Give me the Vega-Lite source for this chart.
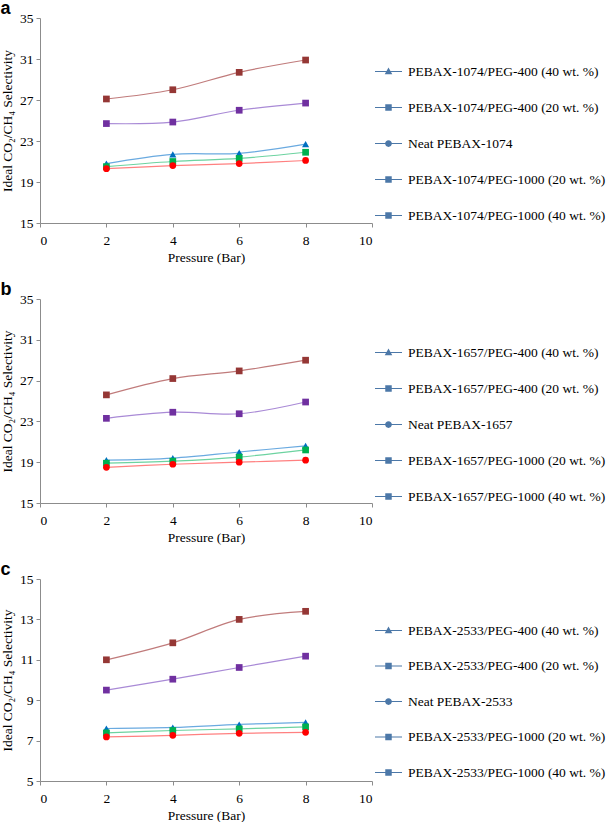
{
  "$schema": "https://vega.github.io/schema/vega-lite/v6.json",
  "padding": {"left": 0, "top": 0, "right": 0, "bottom": 0},
  "spacing": 17,
  "config": {
    "view": {"stroke": null},
    "style": {"guide-label": {"font": "Liberation Serif", "fontSize": 13.5, "fill": "#000"}, "guide-title": {"font": "Liberation Serif", "fontSize": 13.5, "fill": "#000"}},
    "axis": {"grid": false, "domainColor": "#8c8c8c", "tickColor": "#8c8c8c", "tickSize": 4, "labelFont": "Liberation Serif", "labelFontSize": 13.5, "labelColor": "#000", "labelPadding": 3, "titleFont": "Liberation Serif", "titleFontSize": 13.5, "titleFontWeight": "normal", "titleColor": "#000", "titlePadding": 5},
    "axisX": {"labelPadding": 6, "titlePadding": 4},
    "title": {"font": "Liberation Sans", "fontSize": 18, "fontWeight": "bold", "anchor": "start", "color": "#000", "offset": -7}
  },
  "datasets": {
    "a": [
      {"series": "PEBAX-1074/PEG-400 (40 wt. %)", "p": 2, "v": 20.8}, {"series": "PEBAX-1074/PEG-400 (40 wt. %)", "p": 4, "v": 21.7}, {"series": "PEBAX-1074/PEG-400 (40 wt. %)", "p": 6, "v": 21.8}, {"series": "PEBAX-1074/PEG-400 (40 wt. %)", "p": 8, "v": 22.7},
      {"series": "PEBAX-1074/PEG-400 (20 wt. %)", "p": 2, "v": 20.5}, {"series": "PEBAX-1074/PEG-400 (20 wt. %)", "p": 4, "v": 21.0}, {"series": "PEBAX-1074/PEG-400 (20 wt. %)", "p": 6, "v": 21.3}, {"series": "PEBAX-1074/PEG-400 (20 wt. %)", "p": 8, "v": 21.9},
      {"series": "Neat PEBAX-1074", "p": 2, "v": 20.3}, {"series": "Neat PEBAX-1074", "p": 4, "v": 20.6}, {"series": "Neat PEBAX-1074", "p": 6, "v": 20.8}, {"series": "Neat PEBAX-1074", "p": 8, "v": 21.1},
      {"series": "PEBAX-1074/PEG-1000 (20 wt. %)", "p": 2, "v": 24.7}, {"series": "PEBAX-1074/PEG-1000 (20 wt. %)", "p": 4, "v": 24.85}, {"series": "PEBAX-1074/PEG-1000 (20 wt. %)", "p": 6, "v": 26.0}, {"series": "PEBAX-1074/PEG-1000 (20 wt. %)", "p": 8, "v": 26.7},
      {"series": "PEBAX-1074/PEG-1000 (40 wt. %)", "p": 2, "v": 27.1}, {"series": "PEBAX-1074/PEG-1000 (40 wt. %)", "p": 4, "v": 28.0}, {"series": "PEBAX-1074/PEG-1000 (40 wt. %)", "p": 6, "v": 29.7}, {"series": "PEBAX-1074/PEG-1000 (40 wt. %)", "p": 8, "v": 30.9}
    ],
    "b": [
      {"series": "PEBAX-1657/PEG-400 (40 wt. %)", "p": 2, "v": 19.2}, {"series": "PEBAX-1657/PEG-400 (40 wt. %)", "p": 4, "v": 19.4}, {"series": "PEBAX-1657/PEG-400 (40 wt. %)", "p": 6, "v": 20.0}, {"series": "PEBAX-1657/PEG-400 (40 wt. %)", "p": 8, "v": 20.6},
      {"series": "PEBAX-1657/PEG-400 (20 wt. %)", "p": 2, "v": 18.9}, {"series": "PEBAX-1657/PEG-400 (20 wt. %)", "p": 4, "v": 19.1}, {"series": "PEBAX-1657/PEG-400 (20 wt. %)", "p": 6, "v": 19.5}, {"series": "PEBAX-1657/PEG-400 (20 wt. %)", "p": 8, "v": 20.2},
      {"series": "Neat PEBAX-1657", "p": 2, "v": 18.5}, {"series": "Neat PEBAX-1657", "p": 4, "v": 18.8}, {"series": "Neat PEBAX-1657", "p": 6, "v": 19.0}, {"series": "Neat PEBAX-1657", "p": 8, "v": 19.2},
      {"series": "PEBAX-1657/PEG-1000 (20 wt. %)", "p": 2, "v": 23.3}, {"series": "PEBAX-1657/PEG-1000 (20 wt. %)", "p": 4, "v": 23.9}, {"series": "PEBAX-1657/PEG-1000 (20 wt. %)", "p": 6, "v": 23.75}, {"series": "PEBAX-1657/PEG-1000 (20 wt. %)", "p": 8, "v": 24.9},
      {"series": "PEBAX-1657/PEG-1000 (40 wt. %)", "p": 2, "v": 25.6}, {"series": "PEBAX-1657/PEG-1000 (40 wt. %)", "p": 4, "v": 27.2}, {"series": "PEBAX-1657/PEG-1000 (40 wt. %)", "p": 6, "v": 27.95}, {"series": "PEBAX-1657/PEG-1000 (40 wt. %)", "p": 8, "v": 29.0}
    ],
    "c": [
      {"series": "PEBAX-2533/PEG-400 (40 wt. %)", "p": 2, "v": 7.6}, {"series": "PEBAX-2533/PEG-400 (40 wt. %)", "p": 4, "v": 7.65}, {"series": "PEBAX-2533/PEG-400 (40 wt. %)", "p": 6, "v": 7.8}, {"series": "PEBAX-2533/PEG-400 (40 wt. %)", "p": 8, "v": 7.9},
      {"series": "PEBAX-2533/PEG-400 (20 wt. %)", "p": 2, "v": 7.38}, {"series": "PEBAX-2533/PEG-400 (20 wt. %)", "p": 4, "v": 7.5}, {"series": "PEBAX-2533/PEG-400 (20 wt. %)", "p": 6, "v": 7.58}, {"series": "PEBAX-2533/PEG-400 (20 wt. %)", "p": 8, "v": 7.68},
      {"series": "Neat PEBAX-2533", "p": 2, "v": 7.18}, {"series": "Neat PEBAX-2533", "p": 4, "v": 7.26}, {"series": "Neat PEBAX-2533", "p": 6, "v": 7.36}, {"series": "Neat PEBAX-2533", "p": 8, "v": 7.41},
      {"series": "PEBAX-2533/PEG-1000 (20 wt. %)", "p": 2, "v": 9.5}, {"series": "PEBAX-2533/PEG-1000 (20 wt. %)", "p": 4, "v": 10.04}, {"series": "PEBAX-2533/PEG-1000 (20 wt. %)", "p": 6, "v": 10.62}, {"series": "PEBAX-2533/PEG-1000 (20 wt. %)", "p": 8, "v": 11.18},
      {"series": "PEBAX-2533/PEG-1000 (40 wt. %)", "p": 2, "v": 11.0}, {"series": "PEBAX-2533/PEG-1000 (40 wt. %)", "p": 4, "v": 11.84}, {"series": "PEBAX-2533/PEG-1000 (40 wt. %)", "p": 6, "v": 13.0}, {"series": "PEBAX-2533/PEG-1000 (40 wt. %)", "p": 8, "v": 13.4}
    ]
  },
  "vconcat": [
    {
      "title": {"text": "a"},
      "data": {"name": "a"},
      "width": 332, "height": 205,
      "encoding": {
        "x": {"field": "p", "type": "quantitative", "scale": {"domain": [0, 10]}, "axis": {"values": [0, 2, 4, 6, 8, 10], "title": "Pressure (Bar)", "labelFont": "Liberation Serif"}},
        "y": {"field": "v", "type": "quantitative", "scale": {"domain": [15, 35]}, "axis": {"values": [15, 19, 23, 27, 31, 35], "title": "Ideal CO₂/CH₄ Selectivity", "labelFont": "Liberation Serif"}}
      },
      "layer": [
        {"mark": {"type": "line", "interpolate": "catmull-rom", "strokeWidth": 1.2},
         "encoding": {"color": {"field": "series", "type": "nominal", "legend": null, "scale": {"domain": ["PEBAX-1074/PEG-400 (40 wt. %)", "PEBAX-1074/PEG-400 (20 wt. %)", "Neat PEBAX-1074", "PEBAX-1074/PEG-1000 (20 wt. %)", "PEBAX-1074/PEG-1000 (40 wt. %)"], "range": ["#6aaae0", "#6cd3a0", "#ff8080", "#a98ad6", "#c07b7b"]}}}},
        {"layer": [
          {"mark": {"type": "point", "shape": "triangle-up", "filled": true, "size": 50},
           "encoding": {"color": {"field": "series", "type": "nominal", "legend": null, "scale": {"domain": ["PEBAX-1074/PEG-400 (40 wt. %)", "PEBAX-1074/PEG-400 (20 wt. %)", "Neat PEBAX-1074", "PEBAX-1074/PEG-1000 (20 wt. %)", "PEBAX-1074/PEG-1000 (40 wt. %)"], "range": ["#0070c0", "#00b050", "#ff0000", "#7030a0", "#953735"]}},
             "opacity": {"condition": {"test": "datum.series == 'PEBAX-1074/PEG-400 (40 wt. %)'", "value": 1}, "value": 0}}},
          {"mark": {"type": "point", "shape": "square", "filled": true, "size": 45},
           "encoding": {"color": {"field": "series", "type": "nominal", "legend": null},
             "opacity": {"condition": {"test": "indexof(datum.series, 'Neat') < 0 && datum.series != 'PEBAX-1074/PEG-400 (40 wt. %)'", "value": 1}, "value": 0}}},
          {"mark": {"type": "point", "shape": "circle", "filled": true, "size": 45},
           "encoding": {"color": {"field": "series", "type": "nominal", "legend": null},
             "opacity": {"condition": {"test": "indexof(datum.series, 'Neat') >= 0", "value": 1}, "value": 0}}},
          {"mark": {"type": "point", "filled": true, "size": 10, "opacity": 0},
           "encoding": {
             "shape": {"field": "series", "type": "nominal", "scale": {"domain": ["PEBAX-1074/PEG-400 (40 wt. %)", "PEBAX-1074/PEG-400 (20 wt. %)", "Neat PEBAX-1074", "PEBAX-1074/PEG-1000 (20 wt. %)", "PEBAX-1074/PEG-1000 (40 wt. %)"], "range": ["M0,-1V1 M-1,-0.04H1V0.04H-1Z M0,-0.3L0.28,0.2H-0.28Z", "M0,-1V1 M-1,-0.04H1V0.04H-1Z M-0.24,-0.24H0.24V0.24H-0.24Z", "M0,-1V1 M-1,-0.04H1V0.04H-1Z M-0.25,0A0.25,0.25 0 1,1 0.25,0A0.25,0.25 0 1,1 -0.25,0Z", "M0,-1V1 M-1,-0.04H1V0.04H-1Z M-0.24,-0.24H0.24V0.24H-0.24Z", "M0,-1V1 M-1,-0.04H1V0.04H-1Z M-0.24,-0.24H0.24V0.24H-0.24Z"]},
               "legend": {"title": null, "orient": "none", "legendX": 335, "legendY": 40, "symbolSize": 729, "symbolStrokeWidth": 0, "symbolOpacity": 1, "rowPadding": 9, "labelOffset": 6, "labelFont": "Liberation Serif", "labelFontSize": 13.5, "labelColor": "#000", "labelLimit": 300, "padding": 0,
                 "symbolFillColor": {"expr": "indexof(datum.value,'PEG-400 (40')>=0 ? '#0070c0' : indexof(datum.value,'PEG-400 (20')>=0 ? '#00b050' : indexof(datum.value,'Neat')>=0 ? '#ff0000' : indexof(datum.value,'PEG-1000 (20')>=0 ? '#7030a0' : '#953735'"}}}
           }}
        ]}
      ],
      "resolve": {"scale": {"color": "independent"}}
    },
    {
      "title": {"text": "b"},
      "data": {"name": "b"},
      "width": 332, "height": 204,
      "encoding": {
        "x": {"field": "p", "type": "quantitative", "scale": {"domain": [0, 10]}, "axis": {"values": [0, 2, 4, 6, 8, 10], "title": "Pressure (Bar)", "labelFont": "Liberation Serif"}},
        "y": {"field": "v", "type": "quantitative", "scale": {"domain": [15, 35]}, "axis": {"values": [15, 19, 23, 27, 31, 35], "title": "Ideal CO₂/CH₄ Selectivity", "labelFont": "Liberation Serif"}}
      },
      "layer": [
        {"mark": {"type": "line", "interpolate": "catmull-rom", "strokeWidth": 1.2},
         "encoding": {"color": {"field": "series", "type": "nominal", "legend": null, "scale": {"domain": ["PEBAX-1657/PEG-400 (40 wt. %)", "PEBAX-1657/PEG-400 (20 wt. %)", "Neat PEBAX-1657", "PEBAX-1657/PEG-1000 (20 wt. %)", "PEBAX-1657/PEG-1000 (40 wt. %)"], "range": ["#6aaae0", "#6cd3a0", "#ff8080", "#a98ad6", "#c07b7b"]}}}},
        {"layer": [
          {"mark": {"type": "point", "shape": "triangle-up", "filled": true, "size": 50},
           "encoding": {"color": {"field": "series", "type": "nominal", "legend": null, "scale": {"domain": ["PEBAX-1657/PEG-400 (40 wt. %)", "PEBAX-1657/PEG-400 (20 wt. %)", "Neat PEBAX-1657", "PEBAX-1657/PEG-1000 (20 wt. %)", "PEBAX-1657/PEG-1000 (40 wt. %)"], "range": ["#0070c0", "#00b050", "#ff0000", "#7030a0", "#953735"]}},
             "opacity": {"condition": {"test": "datum.series == 'PEBAX-1657/PEG-400 (40 wt. %)'", "value": 1}, "value": 0}}},
          {"mark": {"type": "point", "shape": "square", "filled": true, "size": 45},
           "encoding": {"color": {"field": "series", "type": "nominal", "legend": null},
             "opacity": {"condition": {"test": "indexof(datum.series, 'Neat') < 0 && datum.series != 'PEBAX-1657/PEG-400 (40 wt. %)'", "value": 1}, "value": 0}}},
          {"mark": {"type": "point", "shape": "circle", "filled": true, "size": 45},
           "encoding": {"color": {"field": "series", "type": "nominal", "legend": null},
             "opacity": {"condition": {"test": "indexof(datum.series, 'Neat') >= 0", "value": 1}, "value": 0}}},
          {"mark": {"type": "point", "filled": true, "size": 10, "opacity": 0},
           "encoding": {
             "shape": {"field": "series", "type": "nominal", "scale": {"domain": ["PEBAX-1657/PEG-400 (40 wt. %)", "PEBAX-1657/PEG-400 (20 wt. %)", "Neat PEBAX-1657", "PEBAX-1657/PEG-1000 (20 wt. %)", "PEBAX-1657/PEG-1000 (40 wt. %)"], "range": ["M0,-1V1 M-1,-0.04H1V0.04H-1Z M0,-0.3L0.28,0.2H-0.28Z", "M0,-1V1 M-1,-0.04H1V0.04H-1Z M-0.24,-0.24H0.24V0.24H-0.24Z", "M0,-1V1 M-1,-0.04H1V0.04H-1Z M-0.25,0A0.25,0.25 0 1,1 0.25,0A0.25,0.25 0 1,1 -0.25,0Z", "M0,-1V1 M-1,-0.04H1V0.04H-1Z M-0.24,-0.24H0.24V0.24H-0.24Z", "M0,-1V1 M-1,-0.04H1V0.04H-1Z M-0.24,-0.24H0.24V0.24H-0.24Z"]},
               "legend": {"title": null, "orient": "none", "legendX": 335, "legendY": 40, "symbolSize": 729, "symbolStrokeWidth": 0, "symbolOpacity": 1, "rowPadding": 9, "labelOffset": 6, "labelFont": "Liberation Serif", "labelFontSize": 13.5, "labelColor": "#000", "labelLimit": 300, "padding": 0,
                 "symbolFillColor": {"expr": "indexof(datum.value,'PEG-400 (40')>=0 ? '#0070c0' : indexof(datum.value,'PEG-400 (20')>=0 ? '#00b050' : indexof(datum.value,'Neat')>=0 ? '#ff0000' : indexof(datum.value,'PEG-1000 (20')>=0 ? '#7030a0' : '#953735'"}}}
           }}
        ]}
      ],
      "resolve": {"scale": {"color": "independent"}}
    },
    {
      "title": {"text": "c"},
      "data": {"name": "c"},
      "width": 332, "height": 202,
      "encoding": {
        "x": {"field": "p", "type": "quantitative", "scale": {"domain": [0, 10]}, "axis": {"values": [0, 2, 4, 6, 8, 10], "title": "Pressure (Bar)", "labelFont": "Liberation Serif"}},
        "y": {"field": "v", "type": "quantitative", "scale": {"domain": [5, 15]}, "axis": {"values": [5, 7, 9, 11, 13, 15], "title": "Ideal CO₂/CH₄ Selectivity", "labelFont": "Liberation Serif"}}
      },
      "layer": [
        {"mark": {"type": "line", "interpolate": "catmull-rom", "strokeWidth": 1.2},
         "encoding": {"color": {"field": "series", "type": "nominal", "legend": null, "scale": {"domain": ["PEBAX-2533/PEG-400 (40 wt. %)", "PEBAX-2533/PEG-400 (20 wt. %)", "Neat PEBAX-2533", "PEBAX-2533/PEG-1000 (20 wt. %)", "PEBAX-2533/PEG-1000 (40 wt. %)"], "range": ["#6aaae0", "#6cd3a0", "#ff8080", "#a98ad6", "#c07b7b"]}}}},
        {"layer": [
          {"mark": {"type": "point", "shape": "triangle-up", "filled": true, "size": 50},
           "encoding": {"color": {"field": "series", "type": "nominal", "legend": null, "scale": {"domain": ["PEBAX-2533/PEG-400 (40 wt. %)", "PEBAX-2533/PEG-400 (20 wt. %)", "Neat PEBAX-2533", "PEBAX-2533/PEG-1000 (20 wt. %)", "PEBAX-2533/PEG-1000 (40 wt. %)"], "range": ["#0070c0", "#00b050", "#ff0000", "#7030a0", "#953735"]}},
             "opacity": {"condition": {"test": "datum.series == 'PEBAX-2533/PEG-400 (40 wt. %)'", "value": 1}, "value": 0}}},
          {"mark": {"type": "point", "shape": "square", "filled": true, "size": 45},
           "encoding": {"color": {"field": "series", "type": "nominal", "legend": null},
             "opacity": {"condition": {"test": "indexof(datum.series, 'Neat') < 0 && datum.series != 'PEBAX-2533/PEG-400 (40 wt. %)'", "value": 1}, "value": 0}}},
          {"mark": {"type": "point", "shape": "circle", "filled": true, "size": 45},
           "encoding": {"color": {"field": "series", "type": "nominal", "legend": null},
             "opacity": {"condition": {"test": "indexof(datum.series, 'Neat') >= 0", "value": 1}, "value": 0}}},
          {"mark": {"type": "point", "filled": true, "size": 10, "opacity": 0},
           "encoding": {
             "shape": {"field": "series", "type": "nominal", "scale": {"domain": ["PEBAX-2533/PEG-400 (40 wt. %)", "PEBAX-2533/PEG-400 (20 wt. %)", "Neat PEBAX-2533", "PEBAX-2533/PEG-1000 (20 wt. %)", "PEBAX-2533/PEG-1000 (40 wt. %)"], "range": ["M0,-1V1 M-1,-0.04H1V0.04H-1Z M0,-0.3L0.28,0.2H-0.28Z", "M0,-1V1 M-1,-0.04H1V0.04H-1Z M-0.24,-0.24H0.24V0.24H-0.24Z", "M0,-1V1 M-1,-0.04H1V0.04H-1Z M-0.25,0A0.25,0.25 0 1,1 0.25,0A0.25,0.25 0 1,1 -0.25,0Z", "M0,-1V1 M-1,-0.04H1V0.04H-1Z M-0.24,-0.24H0.24V0.24H-0.24Z", "M0,-1V1 M-1,-0.04H1V0.04H-1Z M-0.24,-0.24H0.24V0.24H-0.24Z"]},
               "legend": {"title": null, "orient": "none", "legendX": 335, "legendY": 38, "symbolSize": 729, "symbolStrokeWidth": 0, "symbolOpacity": 1, "rowPadding": 8.5, "labelOffset": 6, "labelFont": "Liberation Serif", "labelFontSize": 13.5, "labelColor": "#000", "labelLimit": 300, "padding": 0,
                 "symbolFillColor": {"expr": "indexof(datum.value,'PEG-400 (40')>=0 ? '#0070c0' : indexof(datum.value,'PEG-400 (20')>=0 ? '#00b050' : indexof(datum.value,'Neat')>=0 ? '#ff0000' : indexof(datum.value,'PEG-1000 (20')>=0 ? '#7030a0' : '#953735'"}}}
           }}
        ]}
      ],
      "resolve": {"scale": {"color": "independent"}}
    }
  ],
  "resolve": {"scale": {"color": "independent", "shape": "independent"}, "legend": {"color": "independent", "shape": "independent"}}
}
